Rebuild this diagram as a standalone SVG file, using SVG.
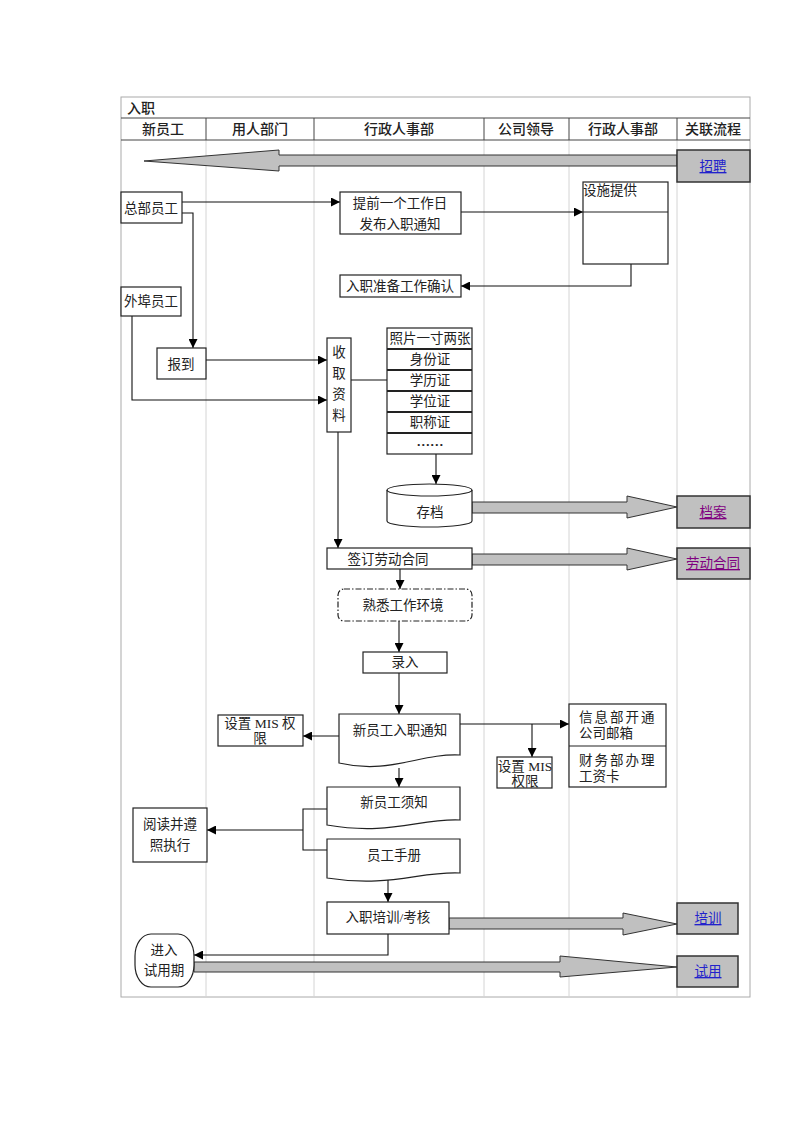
<svg xmlns="http://www.w3.org/2000/svg" width="800" height="1132" viewBox="0 0 800 1132">
<defs>
<marker id="ah" markerUnits="userSpaceOnUse" markerWidth="9" markerHeight="9" refX="9" refY="4.5" orient="auto">
<path d="M0,0 L9,4.5 L0,9 z" fill="#000"/>
</marker>
<style>
text{font-family:"Liberation Serif","Noto Sans CJK SC",serif;font-size:13.5px;fill:#222}
.hd{font-family:"Noto Sans CJK SC",sans-serif;font-size:14px;font-weight:500;text-anchor:middle}
.c{text-anchor:middle}
.box{fill:#fff;stroke:#222;stroke-width:1.2}
.big{fill:#c0c0c0;stroke:#333;stroke-width:1}
.lbox{fill:#c0c0c0;stroke:#333;stroke-width:1.5}
.grid{stroke:#d4d4d4;stroke-width:1}
.hl{stroke:#444;stroke-width:1}
.con{fill:none;stroke:#111;stroke-width:1.1}
.arr{fill:none;stroke:#111;stroke-width:1.1;marker-end:url(#ah)}
.blue{fill:#2222cc;text-decoration:underline;text-anchor:middle}
.purp{fill:#800080;text-decoration:underline;text-anchor:middle}
</style>
</defs>
<rect width="800" height="1132" fill="#fff"/>
<g id="table">
<rect x="121" y="97" width="629" height="900" fill="none" stroke="#aaa" stroke-width="1"/>
<line class="grid" x1="206" y1="140" x2="206" y2="997"/>
<line class="grid" x1="314" y1="140" x2="314" y2="997"/>
<line class="grid" x1="484" y1="140" x2="484" y2="997"/>
<line class="grid" x1="569" y1="140" x2="569" y2="997"/>
<line class="grid" x1="677" y1="140" x2="677" y2="997"/>
<line class="hl" x1="121" y1="118" x2="750" y2="118"/>
<line class="hl" x1="121" y1="140" x2="750" y2="140"/>
<line class="hl" x1="206" y1="118" x2="206" y2="140"/>
<line class="hl" x1="314" y1="118" x2="314" y2="140"/>
<line class="hl" x1="484" y1="118" x2="484" y2="140"/>
<line class="hl" x1="569" y1="118" x2="569" y2="140"/>
<line class="hl" x1="677" y1="118" x2="677" y2="140"/>
<text class="hd" x="127" y="113" style="text-anchor:start">入职</text>
<text class="hd" x="163" y="134">新员工</text>
<text class="hd" x="260" y="134">用人部门</text>
<text class="hd" x="399" y="134">行政人事部</text>
<text class="hd" x="526" y="134">公司领导</text>
<text class="hd" x="623" y="134">行政人事部</text>
<text class="hd" x="713" y="134">关联流程</text>
</g>
<g id="connectors">
<polygon class="big" points="677,155 279,155 279,150 144,161 279,171 279,166 677,166"/>
<polygon class="big" points="472,502 627,502 627,496 677,507 627,518 627,513 472,513"/>
<polygon class="big" points="472,554 627,554 627,548 677,559 627,570 627,565 472,565"/>
<polygon class="big" points="449,918 623,918 623,913 677,924 623,935 623,929 449,929"/>
<polygon class="big" points="194,962 560,962 560,956 677,967 560,977 560,972 194,972"/>
<line class="arr" x1="182" y1="202" x2="340" y2="202"/>
<line class="arr" x1="461" y1="212" x2="583" y2="212"/>
<polyline class="arr" points="631,264 631,286 461,286"/>
<polyline class="arr" points="182,213 193,213 193,348"/>
<polyline class="arr" points="132,316 132,400 327,400"/>
<line class="arr" x1="206" y1="360" x2="327" y2="360"/>
<line class="con" x1="351" y1="380" x2="387" y2="380"/>
<line class="arr" x1="436" y1="454" x2="436" y2="484"/>
<line class="arr" x1="338" y1="432" x2="338" y2="548"/>
<line class="arr" x1="400" y1="569" x2="400" y2="589"/>
<line class="arr" x1="399" y1="621" x2="399" y2="652"/>
<line class="arr" x1="399" y1="673" x2="399" y2="714"/>
<line class="arr" x1="339" y1="736" x2="303" y2="736"/>
<line class="arr" x1="460" y1="724" x2="569" y2="724"/>
<line class="arr" x1="532" y1="724" x2="532" y2="757"/>
<line class="arr" x1="399" y1="768" x2="399" y2="787"/>
<polyline class="con" points="327,809 303,809 303,850 327,850"/>
<line class="arr" x1="303" y1="830" x2="207" y2="830"/>
<line class="arr" x1="388" y1="880" x2="388" y2="902"/>
<polyline class="arr" points="388,934 388,955 194,955"/>
</g>
<g id="zhaopin"><rect class="lbox" x="677" y="150" width="73" height="32"/><text class="blue" x="713" y="171">招聘</text></g>
<g id="zongbu"><rect class="box" x="121" y="192" width="61" height="31"/><text class="c" x="151" y="213">总部员工</text></g>
<g id="tiqian"><rect class="box" x="340" y="192" width="121" height="42"/><text class="c" x="400" y="208">提前一个工作日</text><text class="c" x="400" y="229">发布入职通知</text></g>
<g id="sheshi"><rect class="box" x="583" y="182" width="85" height="82"/><line stroke="#222" stroke-width="1.2" x1="583" y1="212" x2="668" y2="212"/><text x="583" y="195">设施提供</text></g>
<g id="queren"><rect class="box" x="340" y="275" width="121" height="22"/><text class="c" x="400" y="291">入职准备工作确认</text></g>
<g id="waibu"><rect class="box" x="121" y="287" width="60" height="29"/><text class="c" x="151" y="306">外埠员工</text></g>
<g id="baodao"><rect class="box" x="157" y="348" width="49" height="31"/><text class="c" x="181" y="369">报到</text></g>
<g id="shouqu"><rect class="box" x="327" y="338" width="24" height="94"/><text class="c" x="339" y="357">收</text><text class="c" x="339" y="378">取</text><text class="c" x="339" y="399">资</text><text class="c" x="339" y="420">料</text></g>
<g id="ziliao"><rect class="box" x="387" y="328" width="85" height="126"/>
<g stroke="#222" stroke-width="2"><line x1="387" y1="349" x2="472" y2="349"/><line x1="387" y1="370" x2="472" y2="370"/><line x1="387" y1="391" x2="472" y2="391"/><line x1="387" y1="412" x2="472" y2="412"/><line x1="387" y1="433" x2="472" y2="433"/></g>
<text class="c" x="430" y="343">照片一寸两张</text><text class="c" x="430" y="364">身份证</text><text class="c" x="430" y="385">学历证</text><text class="c" x="430" y="406">学位证</text><text class="c" x="430" y="427">职称证</text><text class="c" x="430" y="446" style="font-weight:bold">……</text></g>
<g id="cundang"><path class="box" d="M387,490 A42.5,6 0 0 1 472,490 V521 A42.5,6 0 0 1 387,521 Z"/><path d="M387,490 A42.5,6 0 0 0 472,490" fill="none" stroke="#222" stroke-width="1.2"/><text class="c" x="430" y="517">存档</text></g>
<g id="dangan"><rect class="lbox" x="677" y="496" width="73" height="32"/><text class="purp" x="713" y="517">档案</text></g>
<g id="qianding"><rect class="box" x="327" y="548" width="145" height="21"/><text class="c" x="388" y="564">签订劳动合同</text></g>
<g id="hetong"><rect class="lbox" x="677" y="548" width="73" height="31"/><text class="purp" x="713" y="568">劳动合同</text></g>
<g id="shuxi"><rect x="338" y="589" width="134" height="32" rx="6" fill="#fff" stroke="#222" stroke-width="1.2" stroke-dasharray="6,2,1.5,2"/><text class="c" x="403" y="610">熟悉工作环境</text></g>
<g id="luru"><rect class="box" x="363" y="652" width="84" height="21"/><text class="c" x="405" y="667">录入</text></g>
<g id="tongzhi"><path class="box" d="M339,714 H460 V755 C420,753 390,775 339,763 Z"/><text class="c" x="400" y="735">新员工入职通知</text></g>
<g id="mis1"><rect class="box" x="218" y="715" width="85" height="31"/><text class="c" x="260" y="728">设置 MIS 权</text><text class="c" x="260" y="743">限</text></g>
<g id="xinxi"><rect class="box" x="569" y="704" width="97" height="83"/><line stroke="#222" stroke-width="1.2" x1="569" y1="746" x2="666" y2="746"/><text x="579" y="722" style="letter-spacing:2px">信息部开通</text><text x="579" y="738">公司邮箱</text><text x="579" y="765" style="letter-spacing:2px">财务部办理</text><text x="579" y="781">工资卡</text></g>
<g id="mis2"><rect class="box" x="497" y="757" width="55" height="31"/><text class="c" x="525" y="771">设置 MIS</text><text class="c" x="525" y="786">权限</text></g>
<g id="xuzhi"><path class="box" d="M327,787 H460 V820 C420,818 390,836 327,825 Z"/><text class="c" x="394" y="807">新员工须知</text></g>
<g id="shouce"><path class="box" d="M327,839 H460 V873 C420,871 390,888 327,878 Z"/><text class="c" x="394" y="860">员工手册</text></g>
<g id="yuedu"><rect class="box" x="133" y="808" width="74" height="54"/><text class="c" x="170" y="829">阅读并遵</text><text class="c" x="170" y="850">照执行</text></g>
<g id="peixun"><rect class="box" x="327" y="902" width="122" height="32"/><text class="c" x="388" y="922">入职培训/考核</text></g>
<g id="peixunlink"><rect class="lbox" x="677" y="903" width="61" height="31"/><text class="blue" x="708" y="923">培训</text></g>
<g id="jinru"><rect class="box" x="135" y="934" width="59" height="53" rx="16" ry="22"/><text class="c" x="164" y="955">进入</text><text class="c" x="164" y="975">试用期</text></g>
<g id="shiyong"><rect class="lbox" x="677" y="956" width="61" height="31"/><text class="blue" x="708" y="976">试用</text></g>
</svg>
